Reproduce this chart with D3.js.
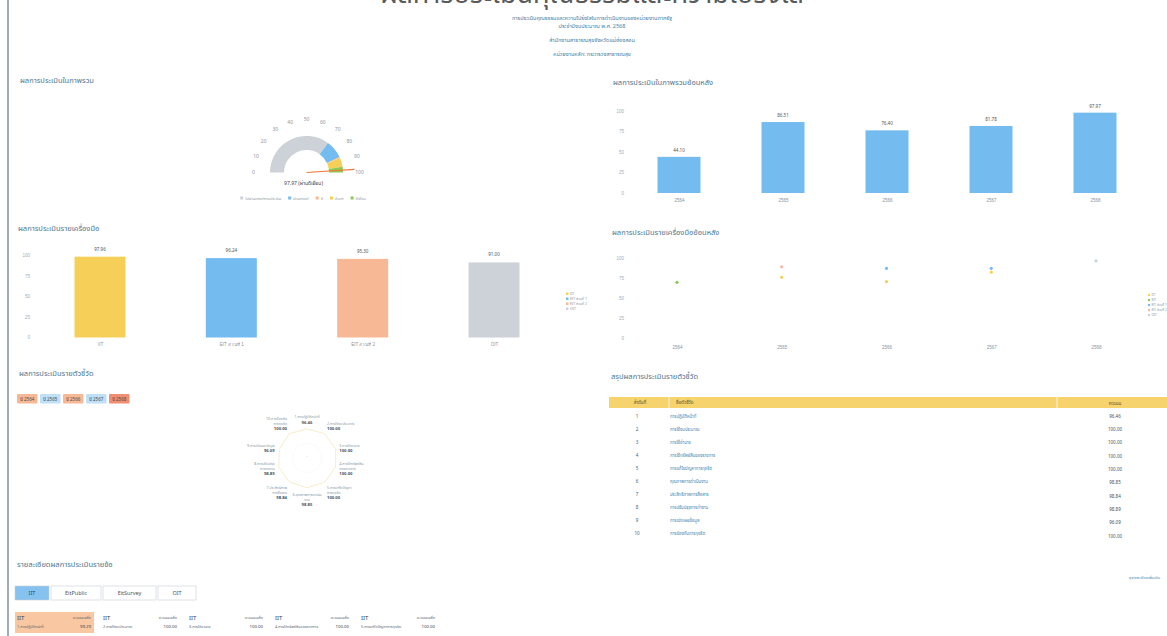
<!DOCTYPE html>
<html>
<head>
<meta charset="utf-8">
<script src="https://cdn.jsdelivr.net/npm/d3@7"></script>
<style>
  body { margin: 0; background: #fff; }
  svg { display: block; font-family: "Noto Sans Thai", "Noto Sans", "DejaVu Sans", sans-serif; }
</style>
</head>
<body>
<svg id="page" width="1167" height="636"></svg>
<script>
// ---- data ----
const pageTitle = "ผลการประเมินคุณธรรมและความโปร่งใส";
const subTitles = [
  "การประเมินคุณธรรมและความโปร่งใสในการดำเนินงานของหน่วยงานภาครัฐ",
  "ประจำปีงบประมาณ พ.ศ. 2568",
  "สำนักงานสาธารณสุขจังหวัดแม่ฮ่องสอน",
  "หน่วยงานหลัก: กระทรวงสาธารณสุข"
];

const gaugeScore = 97.97;
const gaugeText = "97.97 (ผ่านดีเยี่ยม)";
const gaugeLevels = ["ไม่ผ่านเกณฑ์การประเมิน", "ผ่านเกณฑ์", "ดี", "ดีมาก", "ดีเยี่ยม"];
const gaugeBreaks = [0, 70, 86, 87, 95, 100];
const gaugeTicks = [0, 10, 20, 30, 40, 50, 60, 70, 80, 90, 100];

const years = ["2564", "2565", "2566", "2567", "2568"];
const yearScores = [44.10, 86.51, 76.40, 81.78, 97.97];

const tools = ["IIT", "EIT ส่วนที่ 1", "EIT ส่วนที่ 2", "OIT"];
const toolScores = [97.96, 96.24, 95.30, 91.00];

const trendNames = ["IIT", "EIT", "EIT ส่วนที่ 1", "EIT ส่วนที่ 2", "OIT"];
const trendIIT = [null, 75.6, 70.2, 82.0, null];
const trendEIT = [69.5, null, null, null, null];
const trendEIT1 = [null, null, 86.8, 86.8, null];
const trendEIT2 = [null, 88.8, null, null, null];
const trendOIT = [null, null, null, null, 96.0];

const valueTicks = [0, 25, 50, 75, 100];

const yearButtons = ["ปี 2564", "ปี 2565", "ปี 2566", "ปี 2567", "ปี 2568"];

const indicatorNames = [
  "การปฏิบัติหน้าที่", "การใช้งบประมาณ", "การใช้อำนาจ", "การใช้ทรัพย์สินของราชการ",
  "การแก้ไขปัญหาการทุจริต", "คุณภาพการดำเนินงาน", "ประสิทธิภาพการสื่อสาร",
  "การปรับปรุงการทำงาน", "การเปิดเผยข้อมูล", "การป้องกันการทุจริต"
];
const indicatorLabelLines = [
  ["1.การปฏิบัติหน้าที่"], ["2.การใช้งบประมาณ"], ["3.การใช้อำนาจ"],
  ["4.การใช้ทรัพย์สิน", "ของราชการ"], ["5.การแก้ไขปัญหา", "การทุจริต"],
  ["6.คุณภาพการดำเนิน", "งาน"], ["7.ประสิทธิภาพ", "การสื่อสาร"],
  ["8.การปรับปรุง", "การทำงาน"], ["9.การเปิดเผยข้อมูล"], ["10.การป้องกัน", "การทุจริต"]
];
const indicatorScores = [96.46, 100.00, 100.00, 100.00, 100.00, 98.85, 98.84, 98.89, 96.09, 100.00];

const tableHeaders = ["ลำดับที่", "ชื่อตัวชี้วัด", "คะแนน"];

const detailTabs = ["IIT", "EitPublic", "EitSurvey", "OIT"];
const detailNames = ["1.การปฏิบัติหน้าที่", "2.การใช้งบประมาณ", "3.การใช้อำนาจ",
  "4.การใช้ทรัพย์สินของราชการ", "5.การแก้ไขปัญหาการทุจริต"];
const detailScores = [99.29, 100.00, 100.00, 100.00, 100.00];

// ---- colours ----
const cYellow = "#f5cf58", cBlue = "#74bbef", cPeach = "#f7b895", cGray = "#cdd2d8",
      cGreen = "#8cc853", cRed = "#ef8e70";
const titleColor = "#4f7690", axisColor = "#a3acb5";

const svg = d3.select("#page");
const fmt = d3.format(".2f");

// left border of the printed page
svg.append("line").attr("x1", 8).attr("x2", 8).attr("y1", 0).attr("y2", 636)
  .attr("stroke", "#7f90a8").attr("stroke-width", 1.5);

// header (big title is cut by the page edge)
svg.append("text").attr("x", 592).attr("y", 3).attr("text-anchor", "middle")
  .attr("font-size", 27).attr("fill", "#5a5a5a").text(pageTitle);
[19.5, 27.5, 41.5, 55.5].forEach((y, i) => {
  svg.append("text").attr("x", 592).attr("y", y).attr("text-anchor", "middle")
    .attr("font-size", 5.5).attr("fill", "#3f7fa8").text(subTitles[i]);
});

function sectionTitle(x, y, t) {
  svg.append("text").attr("x", x).attr("y", y).attr("font-size", 7.5)
    .attr("fill", titleColor).text(t);
}

function valueAxis(y, x) {
  svg.append("g").attr("transform", `translate(${x},0)`)
    .call(d3.axisLeft(y).tickValues(valueTicks).tickSize(0).tickPadding(0))
    .call(g => g.select(".domain").remove())
    .call(g => g.selectAll("text").attr("fill", axisColor).attr("font-size", 4.5)
      .attr("font-family", null));
}

function catAxis(x, y) {
  svg.append("g").attr("transform", `translate(0,${y})`)
    .call(d3.axisBottom(x).tickSize(0).tickPadding(0))
    .call(g => g.select(".domain").remove())
    .call(g => g.selectAll("text").attr("fill", "#8a939c").attr("font-size", 4.5)
      .attr("font-family", null));
}

// ---- gauge: overall result ----
sectionTitle(20, 83, "ผลการประเมินในภาพรวม");
{
  const cx = 306.5, cy = 172.5;
  const ang = d3.scaleLinear().domain([0, 100]).range([-Math.PI / 2, Math.PI / 2]);
  const arc = d3.arc().innerRadius(22.5).outerRadius(36.5);
  const bandColors = [cGray, cBlue, cPeach, cYellow, cGreen];
  const g = svg.append("g").attr("transform", `translate(${cx},${cy})`);
  gaugeLevels.forEach((name, i) => {
    g.append("path").attr("fill", bandColors[i])
      .attr("d", arc({ startAngle: ang(gaugeBreaks[i]), endAngle: ang(gaugeBreaks[i + 1]) }));
  });
  gaugeTicks.forEach(t => {
    const a = ang(t);
    g.append("text").attr("x", 53 * Math.sin(a)).attr("y", -53 * Math.cos(a) + 1.5)
      .attr("text-anchor", "middle").attr("font-size", 5).attr("fill", "#8d97a1").text(t);
  });
  const na = ang(gaugeScore);
  g.append("line").attr("x1", 0).attr("y1", 0)
    .attr("x2", 48 * Math.sin(na)).attr("y2", -48 * Math.cos(na))
    .attr("stroke", "#ee7a3c").attr("stroke-width", 1.2);
  g.append("text").attr("x", -3).attr("y", 12).attr("text-anchor", "middle")
    .attr("font-size", 5).attr("fill", "#3a4550").text(gaugeText);

  // legend, laid out left to right and centred under the gauge
  const lg = svg.append("g");
  let lx = 0;
  gaugeLevels.forEach((name, i) => {
    const it = lg.append("g").attr("transform", `translate(${lx},0)`);
    it.append("rect").attr("x", 0).attr("y", -2.5).attr("width", 3).attr("height", 3)
      .attr("fill", bandColors[i]);
    const t = it.append("text").attr("x", 5).attr("y", 0.5).attr("font-size", 3.8)
      .attr("fill", "#8d97a1").text(name);
    lx += 5 + t.node().getComputedTextLength() + 7;
  });
  lg.attr("transform", `translate(${cx - lx / 2},199)`);
}

// ---- bars: overall by year ----
sectionTitle(613, 85, "ผลการประเมินในภาพรวมย้อนหลัง");
{
  const x = d3.scalePoint().domain(years).range([679, 1095]);
  const y = d3.scaleLinear().domain([0, 100]).range([193, 111]);
  valueAxis(y, 624);
  const bw = 43;
  svg.append("g").selectAll("rect").data(years).join("rect")
    .attr("x", d => x(d) - bw / 2).attr("width", bw)
    .attr("y", (d, i) => y(yearScores[i])).attr("height", (d, i) => y(0) - y(yearScores[i]))
    .attr("fill", cBlue);
  svg.append("g").selectAll("text").data(years).join("text")
    .attr("x", d => x(d)).attr("y", (d, i) => y(yearScores[i]) - 5)
    .attr("text-anchor", "middle").attr("font-size", 4.5).attr("fill", "#4a5560")
    .text((d, i) => fmt(yearScores[i]));
  catAxis(x, 199);
}

// ---- bars: by tool ----
sectionTitle(18, 231, "ผลการประเมินรายเครื่องมือ");
{
  const x = d3.scalePoint().domain(tools).range([100, 494]);
  const y = d3.scaleLinear().domain([0, 100]).range([337.5, 255]);
  const colors = [cYellow, cBlue, cPeach, cGray];
  valueAxis(y, 30);
  const bw = 51;
  svg.append("g").selectAll("rect").data(tools).join("rect")
    .attr("x", d => x(d) - bw / 2).attr("width", bw)
    .attr("y", (d, i) => y(toolScores[i])).attr("height", (d, i) => y(0) - y(toolScores[i]))
    .attr("fill", (d, i) => colors[i]);
  svg.append("g").selectAll("text").data(tools).join("text")
    .attr("x", d => x(d)).attr("y", (d, i) => y(toolScores[i]) - 6)
    .attr("text-anchor", "middle").attr("font-size", 4.5).attr("fill", "#4a5560")
    .text((d, i) => fmt(toolScores[i]));
  catAxis(x, 343);
  const lg = svg.append("g").attr("transform", "translate(566,294)");
  tools.forEach((t, i) => {
    lg.append("rect").attr("x", 0).attr("y", i * 5 - 1.5).attr("width", 2.5).attr("height", 2.5)
      .attr("fill", colors[i]);
    lg.append("text").attr("x", 4).attr("y", i * 5 + 1).attr("font-size", 3.5)
      .attr("fill", "#8d97a1").text(t);
  });
}

// ---- dots: by tool, by year ----
sectionTitle(612, 235, "ผลการประเมินรายเครื่องมือย้อนหลัง");
{
  const x = d3.scalePoint().domain(years).range([677, 1096]);
  const y = d3.scaleLinear().domain([0, 100]).range([338.3, 257.7]);
  valueAxis(y, 624);
  catAxis(x, 346);
  const series = [trendIIT, trendEIT, trendEIT1, trendEIT2, trendOIT];
  const colors = [cYellow, cGreen, cBlue, "#f3b6a6", "#c6d3de"];
  series.forEach((s, k) => {
    svg.append("g").selectAll("circle").data(s.map((v, i) => [years[i], v]).filter(d => d[1] != null))
      .join("circle").attr("cx", d => x(d[0])).attr("cy", d => y(d[1])).attr("r", 1.6)
      .attr("fill", colors[k]);
  });
  const lg = svg.append("g").attr("transform", "translate(1149,295)");
  trendNames.forEach((t, i) => {
    lg.append("circle").attr("cx", 0).attr("cy", i * 5).attr("r", 1.2).attr("fill", colors[i]);
    lg.append("text").attr("x", 2.5).attr("y", i * 5 + 1.2).attr("font-size", 3.2)
      .attr("fill", "#8d97a1").text(t);
  });
}

// ---- radar: by indicator ----
sectionTitle(19, 376, "ผลการประเมินรายตัวชี้วัด");
{
  const btnColors = [cPeach, "#bfe0f6", cPeach, "#bfe0f6", cRed];
  let bx = 17;
  yearButtons.forEach((b, i) => {
    svg.append("rect").attr("x", bx).attr("y", 394).attr("width", 20.5).attr("height", 9.5)
      .attr("rx", 1).attr("fill", btnColors[i]);
    svg.append("text").attr("x", bx + 10.25).attr("y", 400.5).attr("text-anchor", "middle")
      .attr("font-size", 4.5).attr("fill", "#4a4a4a").text(b);
    bx += 23;
  });

  const cx = 307, cy = 458;
  const r = d3.scaleLinear().domain([0, 100]).range([0, 30]);
  const n = indicatorNames.length;
  const angle = i => (i * 2 * Math.PI) / n;
  const g = svg.append("g").attr("transform", `translate(${cx},${cy})`);
  [50, 100].forEach(v => {
    g.append("path").attr("fill", "none").attr("stroke", "#f0f2f4").attr("stroke-width", 0.4)
      .attr("d", d3.line()(d3.range(n + 1).map(i => [r(v) * Math.sin(angle(i)), -r(v) * Math.cos(angle(i))])));
  });
  g.append("path").attr("fill", "none")
    .attr("stroke", cYellow).attr("stroke-opacity", 0.5).attr("stroke-width", 0.6)
    .attr("d", d3.line().curve(d3.curveLinearClosed)(indicatorScores.map((v, i) =>
      [r(v) * Math.sin(angle(i)), -r(v) * Math.cos(angle(i))])));
  [50, 100].forEach(v => {
    g.append("text").attr("x", 0).attr("y", -r(v) + 14).attr("text-anchor", "middle")
      .attr("font-size", 3).attr("fill", "#b8c0c8").text(v === 100 ? "" : "–");
  });
  indicatorLabelLines.forEach((lines, i) => {
    const a = angle(i), R = 34;
    const px = R * Math.sin(a), py = -R * Math.cos(a);
    const s = Math.sin(a), c = Math.cos(a);
    const anchor = s > 0.15 ? "start" : s < -0.15 ? "end" : "middle";
    const rows = lines.length + 1, lh = 4.8;
    let top;
    if (c > 0.5) top = py - rows * lh;
    else if (c < -0.5) top = py;
    else top = py - (rows * lh) / 2;
    lines.forEach((l, k) => {
      g.append("text").attr("x", px).attr("y", top + (k + 1) * lh - 1)
        .attr("text-anchor", anchor).attr("font-size", 3.6).attr("fill", "#8896a3").text(l);
    });
    g.append("text").attr("x", px).attr("y", top + rows * lh - 0.5)
      .attr("text-anchor", anchor).attr("font-size", 4.2).attr("font-weight", "bold")
      .attr("fill", "#4a5561").text(fmt(indicatorScores[i]));
  });
}

// ---- table: indicator summary ----
sectionTitle(611, 379, "สรุปผลการประเมินรายตัวชี้วัด");
{
  svg.append("rect").attr("x", 609).attr("y", 397).attr("width", 558).attr("height", 11)
    .attr("fill", "#f6d36c");
  [669, 1057].forEach(xv => svg.append("line").attr("x1", xv).attr("x2", xv)
    .attr("y1", 397).attr("y2", 408).attr("stroke", "#fff").attr("stroke-width", 0.8));
  svg.append("text").attr("x", 640).attr("y", 404).attr("text-anchor", "middle")
    .attr("font-size", 4.5).attr("fill", "#5a5030").text(tableHeaders[0]);
  svg.append("text").attr("x", 676).attr("y", 404)
    .attr("font-size", 4.5).attr("fill", "#5a5030").text(tableHeaders[1]);
  svg.append("text").attr("x", 1115).attr("y", 405).attr("text-anchor", "middle")
    .attr("font-size", 4.5).attr("fill", "#5a5030").text(tableHeaders[2]);
  const rowY = d3.scaleBand().domain(d3.range(indicatorNames.length)).range([409.5, 540.5]);
  const rows = svg.append("g").selectAll("g").data(indicatorNames).join("g")
    .attr("transform", (d, i) => `translate(0,${rowY(i) + rowY.bandwidth() / 2 + 1.5})`);
  rows.append("text").attr("x", 637).attr("text-anchor", "middle").attr("font-size", 4.5)
    .attr("fill", "#3f5d78").text((d, i) => i + 1);
  rows.append("text").attr("x", 670).attr("font-size", 4.3).attr("fill", "#3f86b0")
    .text(d => d);
  rows.append("text").attr("x", 1115).attr("dy", (d, i) => i * 0.25).attr("text-anchor", "middle")
    .attr("font-size", 4.5).attr("fill", "#3a4f66").text((d, i) => fmt(indicatorScores[i]));
}

// ---- per-question detail ----
sectionTitle(17, 567, "รายละเอียดผลการประเมินรายข้อ");
{
  const tabW = [34, 50, 53, 38];
  let tx = 15;
  detailTabs.forEach((t, i) => {
    svg.append("rect").attr("x", tx).attr("y", 586).attr("width", tabW[i]).attr("height", 14)
      .attr("fill", i === 0 ? "#86c2ef" : "#fff").attr("stroke", "#c8ced5").attr("stroke-width", 0.6);
    svg.append("text").attr("x", tx + tabW[i] / 2).attr("y", 595).attr("text-anchor", "middle")
      .attr("font-size", 5.5).attr("fill", i === 0 ? "#2c4a66" : "#4a5560").text(t);
    tx += tabW[i] + 2;
  });
  detailNames.forEach((name, i) => {
    const x0 = 15 + i * 86;
    if (i === 0) svg.append("rect").attr("x", x0).attr("y", 612).attr("width", 79).attr("height", 21)
      .attr("fill", "#f9c7a2");
    svg.append("text").attr("x", x0 + 2).attr("y", 620).attr("font-size", 6)
      .attr("fill", "#3a4550").text(detailTabs[0]);
    svg.append("text").attr("x", x0 + 76).attr("y", 619).attr("text-anchor", "end")
      .attr("font-size", 3.8).attr("fill", "#5a6570").text("คะแนนเฉลี่ย");
    svg.append("text").attr("x", x0 + 2).attr("y", 628).attr("font-size", 3.8)
      .attr("fill", "#5a6570").text(name);
    svg.append("text").attr("x", x0 + 76).attr("y", 628).attr("text-anchor", "end")
      .attr("font-size", 4.3).attr("fill", "#3a4550").text(fmt(detailScores[i]));
  });
  svg.append("text").attr("x", 1160).attr("y", 579).attr("text-anchor", "end")
    .attr("font-size", 3.8).attr("fill", "#3f86b0").text("ดูรายละเอียดเพิ่มเติม");
}
</script>
</body>
</html>
